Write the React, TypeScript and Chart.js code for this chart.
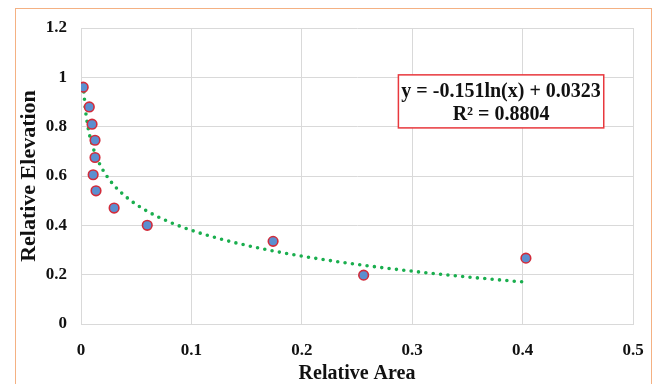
import React, { useEffect, useRef } from "react";
import { Chart, registerables } from "chart.js";

Chart.register(...registerables);

// Observed points (Relative Area, Relative Elevation)
const areaValues = [0.002, 0.0075, 0.010, 0.0127, 0.0127, 0.011, 0.0136, 0.030, 0.060, 0.174, 0.256, 0.403];
const elevationValues = [0.96, 0.88, 0.81, 0.745, 0.675, 0.605, 0.54, 0.47, 0.40, 0.335, 0.198, 0.267];

// Logarithmic trendline reported on the chart: y = a ln(x) + b
const trendA = -0.151;
const trendB = 0.0323;
const trendR2 = 0.8804;
const trendXMin = 0.002;
const trendXMax = 0.403;

const xTicks = [0, 0.1, 0.2, 0.3, 0.4, 0.5];
const yTicks = [0, 0.2, 0.4, 0.6, 0.8, 1, 1.2];

const SERIF = "'Liberation Serif', 'Times New Roman', serif";

export default function App() {
  const canvasRef = useRef<HTMLCanvasElement | null>(null);

  useEffect(() => {
    const canvas = canvasRef.current;
    if (!canvas) return;

    const scatter = areaValues.map((x, i) => ({ x, y: elevationValues[i] }));
    const trend: { x: number; y: number }[] = [];
    const steps = 200;
    for (let i = 0; i <= steps; i++) {
      const x = trendXMin + ((trendXMax - trendXMin) * i) / steps;
      trend.push({ x, y: trendA * Math.log(x) + trendB });
    }

    const eqPlugin = {
      id: "eqBox",
      afterDatasetsDraw(chart: any) {
        const { ctx, scales } = chart;
        const xs = scales.x;
        const ys = scales.y;
        const l = xs.getPixelForValue(0.2875);
        const r = xs.getPixelForValue(0.4735);
        const t = ys.getPixelForValue(1.01);
        const b = ys.getPixelForValue(0.795);
        ctx.save();
        ctx.fillStyle = "#ffffff";
        ctx.fillRect(l, t, r - l, b - t);
        ctx.strokeStyle = "#e8383d";
        ctx.lineWidth = 1.5;
        ctx.strokeRect(l, t, r - l, b - t);
        ctx.fillStyle = "#111111";
        ctx.font = `bold 20px ${SERIF}`;
        ctx.textAlign = "center";
        ctx.textBaseline = "middle";
        const cx = (l + r) / 2;
        const sign = trendB >= 0 ? "+" : "-";
        ctx.fillText(`y = ${trendA.toFixed(3)}ln(x) ${sign} ${Math.abs(trendB)}`, cx, t + 17);
        ctx.fillText(`R² = ${trendR2}`, cx, t + 40);
        ctx.restore();
      },
    };

    const chart = new Chart(canvas, {
      type: "scatter",
      data: {
        datasets: [
          {
            type: "line",
            data: trend,
            borderColor: "#1aae4e",
            borderWidth: 3.6,
            borderDash: [0, 7.4],
            borderCapStyle: "round",
            pointRadius: 0,
            fill: false,
            tension: 0,
            order: 2,
          } as any,
          {
            data: scatter,
            backgroundColor: "#5b8fd0",
            borderColor: "#d22b3a",
            borderWidth: 1.6,
            pointRadius: 4.8,
            order: 1,
          },
        ],
      },
      options: {
        animation: false,
        responsive: false,
        maintainAspectRatio: false,
        layout: { padding: { left: 0, top: 28, right: 27, bottom: 0 } },
        plugins: {
          legend: { display: false },
          tooltip: { enabled: false },
        },
        scales: {
          x: {
            type: "linear",
            min: 0,
            max: 0.5,
            afterFit: (s: any) => {
              s.height = 60;
            },
            afterBuildTicks: (s: any) => {
              s.ticks = xTicks.map((v) => ({ value: v }));
            },
            ticks: {
              padding: 16,
              color: "#111111",
              font: { family: SERIF, size: 17, weight: "bold" },
              callback: (v: any) => String(Number(v)),
            },
            grid: { color: "#d9d9d9", lineWidth: 1, drawTicks: false },
            border: { color: "#d9d9d9", width: 1 },
            title: {
              display: true,
              text: "Relative Area",
              color: "#111111",
              font: { family: SERIF, size: 20, weight: "bold", lineHeight: 1.0 },
              padding: { top: 0, bottom: 0 },
            },
          },
          y: {
            type: "linear",
            min: 0,
            max: 1.2,
            afterFit: (s: any) => {
              s.width = 81;
            },
            afterBuildTicks: (s: any) => {
              s.ticks = yTicks.map((v) => ({ value: v }));
            },
            ticks: {
              padding: 14,
              color: "#111111",
              font: { family: SERIF, size: 17, weight: "bold" },
              callback: (v: any) => String(Number(v)),
            },
            grid: { color: "#d9d9d9", lineWidth: 1, drawTicks: false },
            border: { color: "#d9d9d9", width: 1 },
            title: {
              display: true,
              text: "Relative Elevation",
              color: "#111111",
              font: { family: SERIF, size: 22, weight: "bold", lineHeight: 1.2 },
              padding: { top: 16, bottom: 0 },
            },
          },
        },
      },
      plugins: [eqPlugin],
    });

    return () => chart.destroy();
  }, []);

  return (
    <div
      style={{
        position: "fixed",
        left: 0,
        top: 0,
        width: 660,
        height: 384,
        background: "#ffffff",
        overflow: "hidden",
      }}
    >
      <div
        style={{
          position: "absolute",
          left: 15,
          top: 8,
          width: 637,
          height: 400,
          border: "1px solid #f4b183",
          boxSizing: "border-box",
        }}
      />
      <canvas
        ref={canvasRef}
        width={660}
        height={384}
        style={{ position: "absolute", left: 0, top: 0, width: 660, height: 384 }}
      />
    </div>
  );
}
